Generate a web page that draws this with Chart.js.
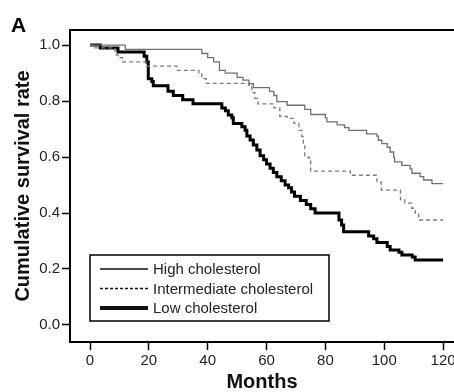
<!DOCTYPE html>
<html>
<head>
<meta charset="utf-8">
<script src="https://cdn.jsdelivr.net/npm/chart.js@4.4.1/dist/chart.umd.min.js"></script>
<style>
  html, body { margin: 0; padding: 0; background: #fff; }
  #wrap { width: 454px; height: 392px; }
</style>
</head>
<body>
<div id="wrap"><canvas id="survivalChart" width="454" height="392"></canvas></div>
<script>
const seriesLabels = ['High cholesterol', 'Intermediate cholesterol', 'Low cholesterol'];

const highMonths = [0, 12, 38, 40, 42, 44, 46, 50, 52, 54, 55.5, 61, 62.5, 63.5, 67, 73, 75, 80, 80.5, 84, 86.5, 88, 94, 97.5, 98, 99.2, 101, 102, 103.2, 103.5, 106, 108.8, 109.4, 112.2, 113.4, 116.2, 120];
const highSurvival = [1.0, 0.985, 0.97, 0.955, 0.94, 0.91, 0.9, 0.885, 0.875, 0.862, 0.848, 0.835, 0.82, 0.798, 0.785, 0.77, 0.752, 0.74, 0.726, 0.715, 0.705, 0.695, 0.683, 0.675, 0.66, 0.648, 0.635, 0.618, 0.6, 0.583, 0.57, 0.558, 0.542, 0.53, 0.518, 0.505, 0.505];

const midMonths = [0, 1, 8.5, 9.5, 11, 19, 29.5, 37, 38, 39.5, 54, 55, 56, 57, 62.5, 64.5, 67, 69.3, 71, 72, 72.5, 73, 74.5, 75, 88.5, 97.5, 99, 105.5, 107, 109.3, 110.5, 111.7, 120];
const midSurvival = [1.0, 0.99, 0.965, 0.955, 0.94, 0.925, 0.91, 0.9, 0.88, 0.863, 0.85, 0.83, 0.81, 0.79, 0.776, 0.745, 0.738, 0.72, 0.695, 0.673, 0.64, 0.6, 0.585, 0.55, 0.535, 0.51, 0.482, 0.448, 0.435, 0.417, 0.4, 0.375, 0.375];

const lowMonths = [0, 3.5, 9.5, 18.4, 19.3, 19.8, 21, 21.5, 26.5, 28.3, 31.5, 35, 44.8, 46, 47, 48.2, 48.7, 51.6, 52.7, 53.3, 54.4, 55.5, 56.7, 57.8, 59, 60, 61.2, 62.3, 63.5, 65, 66.3, 67.5, 68.5, 69.5, 71.5, 73.5, 75, 76.5, 84.6, 85.5, 86.2, 94.7, 96.4, 97.5, 101, 102, 105, 106, 109.5, 110.5, 120];
const lowSurvival = [1.0, 0.99, 0.975, 0.96, 0.94, 0.88, 0.87, 0.855, 0.835, 0.82, 0.805, 0.79, 0.775, 0.765, 0.75, 0.74, 0.72, 0.708, 0.696, 0.675, 0.661, 0.643, 0.625, 0.605, 0.59, 0.575, 0.56, 0.545, 0.53, 0.515, 0.5, 0.49, 0.475, 0.46, 0.445, 0.43, 0.415, 0.4, 0.375, 0.357, 0.333, 0.318, 0.308, 0.295, 0.28, 0.268, 0.26, 0.25, 0.243, 0.232, 0.232];

const xTicks = [0, 20, 40, 60, 80, 100, 120];
const yTicks = [0.0, 0.2, 0.4, 0.6, 0.8, 1.0];

const FONT = 'Liberation Sans, Arial, Helvetica, sans-serif';

function toPoints(months, survival) {
  return months.map((m, i) => ({ x: m, y: survival[i] }));
}

// top border, panel letter and boxed legend
const framePlugin = {
  id: 'frame',
  afterDraw(chart) {
    const { ctx, chartArea } = chart;
    ctx.save();
    ctx.strokeStyle = '#000';
    ctx.lineWidth = 2;
    ctx.beginPath();
    ctx.moveTo(chartArea.left - 1, chartArea.top);
    ctx.lineTo(chartArea.right, chartArea.top);
    ctx.stroke();

    ctx.fillStyle = '#000';
    ctx.font = 'bold 21px ' + FONT;
    ctx.textBaseline = 'alphabetic';
    ctx.fillText('A', 11, 32);

    const boxLeft = chartArea.left + 20;
    const boxTop = chartArea.bottom - 87;
    const rowGap = 19.5;
    ctx.lineWidth = 1.5;
    ctx.strokeRect(boxLeft, boxTop, 239, 66);
    const samples = [
      { width: 1.4, dash: [] },
      { width: 1.4, dash: [3, 2] },
      { width: 4, dash: [] }
    ];
    ctx.font = '15px ' + FONT;
    ctx.textBaseline = 'middle';
    samples.forEach((s, i) => {
      const y = boxTop + 14 + i * rowGap;
      ctx.strokeStyle = '#111';
      ctx.lineWidth = s.width;
      ctx.setLineDash(s.dash);
      ctx.beginPath();
      ctx.moveTo(boxLeft + 10, y);
      ctx.lineTo(boxLeft + 58, y);
      ctx.stroke();
      ctx.setLineDash([]);
      ctx.fillStyle = '#222';
      ctx.fillText(seriesLabels[i], boxLeft + 63, y + 1);
    });
    ctx.restore();
  }
};

new Chart(document.getElementById('survivalChart'), {
  type: 'line',
  data: {
    datasets: [
      {
        label: seriesLabels[0],
        data: toPoints(highMonths, highSurvival),
        borderColor: '#707070',
        borderWidth: 1.3,
        stepped: true,
        pointRadius: 0
      },
      {
        label: seriesLabels[1],
        data: toPoints(midMonths, midSurvival),
        borderColor: '#7a7a7a',
        borderWidth: 1.3,
        borderDash: [4, 3],
        stepped: true,
        pointRadius: 0
      },
      {
        label: seriesLabels[2],
        data: toPoints(lowMonths, lowSurvival),
        borderColor: '#000',
        borderWidth: 3,
        stepped: true,
        pointRadius: 0
      }
    ]
  },
  options: {
    responsive: false,
    animation: false,
    devicePixelRatio: 1,
    layout: { padding: { top: 30, right: 0, bottom: 0, left: 0 } },
    plugins: {
      legend: { display: false },
      tooltip: { enabled: false }
    },
    scales: {
      x: {
        type: 'linear',
        min: -6.8,
        max: 123.7,
        afterBuildTicks: scale => { scale.ticks = xTicks.map(v => ({ value: v })); },
        afterFit: scale => { scale.height = 50; scale.paddingLeft = 0; scale.paddingRight = 0; },
        grid: { display: true, drawOnChartArea: false, drawTicks: true, tickLength: 8, tickColor: '#000', tickWidth: 1.5 },
        border: { display: true, color: '#000', width: 2 },
        ticks: { padding: 2, color: '#222', font: { family: FONT, size: 15 }, maxRotation: 0, autoSkip: false },
        title: { display: true, text: 'Months', color: '#111', font: { family: FONT, size: 20, weight: 'bold', lineHeight: 1 }, padding: { top: 0, bottom: 0 } }
      },
      y: {
        min: -0.061,
        max: 1.054,
        afterBuildTicks: scale => { scale.ticks = yTicks.map(v => ({ value: v })); },
        afterFit: scale => { scale.width = 70; scale.paddingTop = 0; scale.paddingBottom = 0; },
        grid: { display: true, drawOnChartArea: false, drawTicks: true, tickLength: 8, tickColor: '#000', tickWidth: 1.5 },
        border: { display: true, color: '#000', width: 2 },
        ticks: { padding: 2, color: '#222', font: { family: FONT, size: 15 }, callback: v => v.toFixed(1) },
        title: { display: true, text: 'Cumulative survival rate', color: '#111', font: { family: FONT, size: 20, weight: 'bold', lineHeight: 1 }, padding: { top: 13.5, bottom: 0 } }
      }
    }
  },
  plugins: [framePlugin]
});
</script>
</body>
</html>
